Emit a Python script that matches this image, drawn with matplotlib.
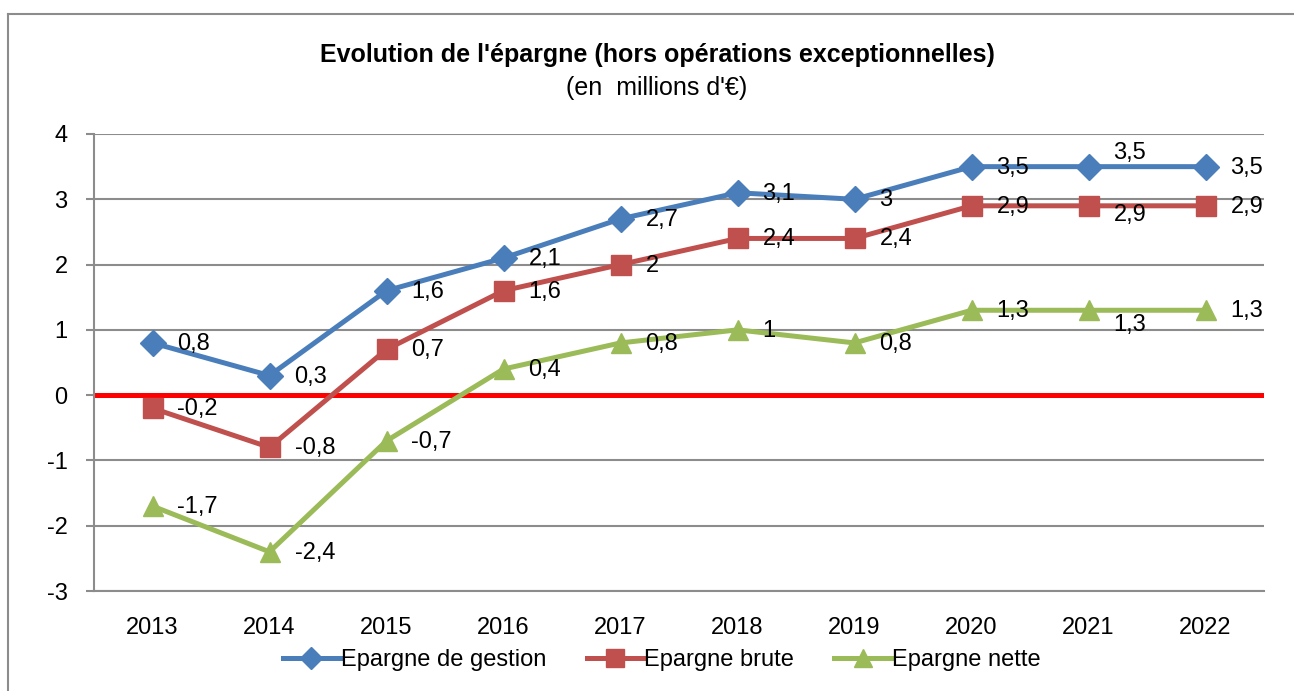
import numpy as np
import matplotlib
matplotlib.use("Agg")
import matplotlib.pyplot as plt
from matplotlib.lines import Line2D

plt.rcParams['font.family'] = ['Liberation Sans', 'DejaVu Sans']

years = ['2013', '2014', '2015', '2016', '2017', '2018', '2019', '2020', '2021', '2022']
gestion = [0.8, 0.3, 1.6, 2.1, 2.7, 3.1, 3.0, 3.5, 3.5, 3.5]
brute = [-0.2, -0.8, 0.7, 1.6, 2.0, 2.4, 2.4, 2.9, 2.9, 2.9]
nette = [-1.7, -2.4, -0.7, 0.4, 0.8, 1.0, 0.8, 1.3, 1.3, 1.3]

# vertical label shifts (pixels, up positive) where Excel moved a label
shift_gestion = {8: 14}
shift_brute = {8: -9}
shift_nette = {8: -15}

W, H = 1294, 691
fig = plt.figure(figsize=(W / 100, H / 100), dpi=100)
ax = fig.add_axes([94 / W, 1 - 591 / H, (1264 - 94) / W, (591 - 134) / H])

x = np.arange(len(years))
grid_c = '#8c8c8c'

ax.set_xlim(-0.5, len(years) - 0.5)
ax.set_ylim(-3, 4)
ax.set_yticks(range(-3, 5))
ax.set_yticklabels([str(v) for v in range(-3, 5)])
ax.set_xticks(x)
ax.set_xticklabels(years)
ax.grid(axis='y', color=grid_c, linewidth=1.5)
ax.set_axisbelow(True)
for s in ['top', 'right']:
    ax.spines[s].set_visible(False)
ax.spines['left'].set_color(grid_c)
ax.spines['left'].set_linewidth(1.5)
ax.spines['bottom'].set_color(grid_c)
ax.spines['bottom'].set_linewidth(1.5)
ax.tick_params(axis='y', length=6, width=1.5, color=grid_c, pad=13, labelsize=17)
ax.tick_params(axis='x', length=0, pad=19, labelsize=17)

ax.axhline(0, color='#ff0000', linewidth=3.6, zorder=2)

series = [
    ('Epargne de gestion', gestion, '#4a7ebb', 'D', 13, shift_gestion),
    ('Epargne brute', brute, '#c0504d', 's', 14, shift_brute),
    ('Epargne nette', nette, '#9bbb59', '^', 14, shift_nette),
]
handles = []
for name, vals, col, mk, ms, shifts in series:
    ax.plot(x, vals, color=col, linewidth=3.6, marker=mk, markersize=ms,
            zorder=3, clip_on=False)
    handles.append(Line2D([], [], color=col, linewidth=3.6, marker=mk,
                          markersize=ms * 0.9, label=name))
    for i, v in enumerate(vals):
        lab = ('%g' % v).replace('.', ',')
        ax.annotate(lab, (x[i], v), xytext=(25, shifts.get(i, -1)),
                    textcoords='offset pixels', ha='left', va='center',
                    fontsize=17, zorder=4)

fig.text(657 / W, 1 - 55 / H, "Evolution de l'épargne (hors opérations exceptionnelles)",
         ha='center', va='center', fontsize=18, fontweight='bold')
fig.text(657 / W, 1 - 88 / H, "(en  millions d'€)", ha='center', va='center', fontsize=18)

fig.legend(handles=handles, loc='center', bbox_to_anchor=(662 / W, 1 - 660 / H),
           ncol=3, frameon=False, fontsize=17, handlelength=2.4,
           handletextpad=0.05, columnspacing=1.7)

# chart border (left and top edges visible)
fig.add_artist(Line2D([8 / W, 8 / W], [0, 1 - 14 / H], color='#8c8c8c',
                      linewidth=1.5, transform=fig.transFigure))
fig.add_artist(Line2D([8 / W, 1], [1 - 14 / H, 1 - 14 / H], color='#8c8c8c',
                      linewidth=1.5, transform=fig.transFigure))

fig.savefig('out.png', dpi=100)
